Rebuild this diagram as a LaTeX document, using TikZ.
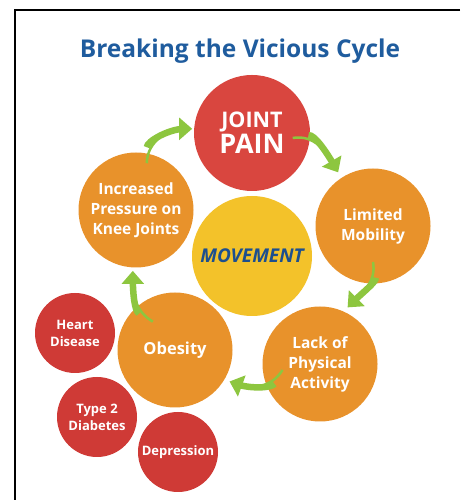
\documentclass[tikz,border=0pt]{standalone}
\usepackage{fontspec}
\setmainfont{Open Sans}
\usetikzlibrary{arrows.meta,calc}
\definecolor{headblue}{HTML}{1F5C9E}
\definecolor{moveblue}{HTML}{1D4F8E}
\definecolor{painred}{HTML}{D9463F}
\definecolor{riskred}{HTML}{CF3A36}
\definecolor{stage}{HTML}{E8922B}
\definecolor{core}{HTML}{F3C22A}
\definecolor{leaf}{HTML}{8DC63F}
\tikzset{
  blob/.style={circle,inner sep=0pt,align=center,text=white},
  pain/.style={blob,fill=painred,minimum size=116pt},
  stg/.style={blob,fill=stage,minimum size=115pt,font=\fontsize{15.5}{20}\selectfont\bfseries},
  risk/.style={blob,fill=riskred,minimum size=80pt,font=\fontsize{13}{17}\selectfont\bfseries},
  ar/.style={-{Triangle[length=13pt,width=22pt]},draw=leaf,line width=2.5pt,
    preaction={draw=leaf,-,line width=6.5pt,shorten <=16pt,shorten >=8pt}},
}
\begin{document}
\begin{tikzpicture}[x=1pt,y=1pt]
\useasboundingbox[fill=white] (0,0) rectangle (460,500);
\draw[line width=1.6pt] (460,490) -- (15,490) -- (15,0);
\node[font=\fontsize{24.5}{28}\selectfont\bfseries,text=headblue] (title) at (240,449) {Breaking the Vicious Cycle};
\node[pain,font=\bfseries] (jp) at (252,367) {\fontsize{21.5}{24}\selectfont JOINT\\[1pt]\fontsize{27}{27}\selectfont PAIN};
\node[stg] (press) at (136,290) {Increased\\Pressure on\\Knee Joints};
\node[stg] (mob) at (373,274) {Limited\\Mobility};
\node[blob,fill=core,minimum size=120pt,text=moveblue,font=\fontsize{19}{22}\selectfont\bfseries\itshape] (move) at (252,244) {MOVEMENT};
\node[stg,font=\fontsize{16.5}{20}\selectfont\bfseries] (obes) at (175,150) {Obesity};
\node[stg] (lack) at (320,136) {Lack of\\Physical\\Activity};
\node[risk] (heart) at (75,167) {Heart\\Disease};
\node[risk] (diab) at (97,83) {Type 2\\Diabetes};
\node[risk] (depr) at (178,48) {Depression};
\draw[ar] ($(jp)+(-7:41)$) to[out=10,in=120] ($(mob)+(123:64)$);
\draw[ar] ($(mob)+(-90:36)$) to[out=-80,in=45] ($(lack)+(64:63)$);
\draw[ar] ($(lack)+(189:38)$) to[out=-120,in=-20] ($(obes)+(-30:63)$);
\draw[ar] ($(obes)+(128:36)$) to[out=150,in=-90] ($(press)+(-93:61)$);
\draw[ar] ($(press)+(77:48)$) to[out=90,in=180] ($(jp)+(176:60)$);
\end{tikzpicture}
\end{document}
